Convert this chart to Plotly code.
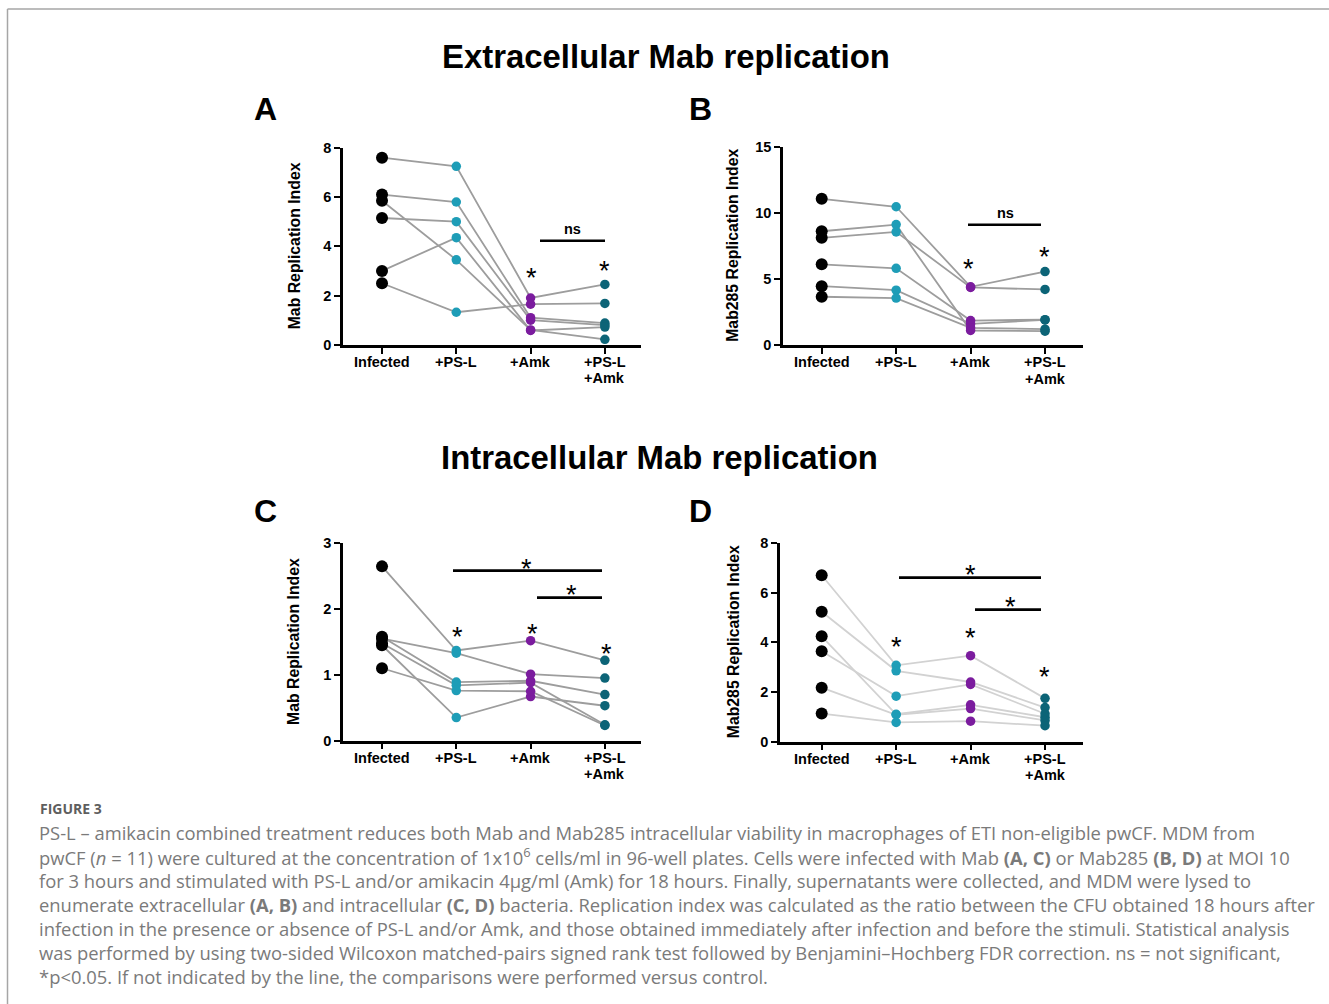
import plotly.graph_objects as go

W, H = 1329, 1004

# ---------------- data ----------------
CATEGORIES = ["Infected", "+PS-L", "+Amk", "+PS-L<br>+Amk"]

# Panel A - extracellular Mab (one value per donor, same order in each list)
A_INFECTED = [7.60, 6.10, 5.85, 5.15, 3.00, 2.50]
A_PSL      = [7.25, 5.80, 3.45, 5.00, 4.35, 1.32]
A_AMK      = [1.90, 1.10, 0.60, 1.00, 0.58, 1.65]
A_COMBO    = [2.45, 0.88, 0.22, 0.80, 0.72, 1.68]

# Panel B - extracellular Mab285
B_INFECTED = [11.05, 8.60, 8.10, 6.10, 4.45, 3.65]
B_PSL      = [10.45, 9.10, 8.55, 5.80, 4.15, 3.55]
B_AMK      = [4.40, 1.10, 4.35, 1.85, 1.60, 1.30]
B_COMBO    = [5.55, 1.05, 4.20, 1.92, 1.90, 1.20]

# Panel C - intracellular Mab
C_INFECTED = [2.65, 1.55, 1.58, 1.48, 1.45, 1.10]
C_PSL      = [1.37, 1.33, 0.89, 0.84, 0.35, 0.76]
C_AMK      = [1.52, 1.01, 0.91, 0.88, 0.67, 0.75]
C_COMBO    = [1.22, 0.95, 0.70, 0.24, 0.53, 0.23]

# Panel D - intracellular Mab285
D_INFECTED = [6.70, 5.23, 4.24, 3.64, 2.17, 1.13]
D_PSL      = [3.07, 2.85, 1.10, 1.83, 1.08, 0.77]
D_AMK      = [3.46, 2.40, 1.48, 2.30, 1.33, 0.82]
D_COMBO    = [1.74, 1.37, 0.98, 1.12, 0.85, 0.64]

COND_COLORS = ["#000000", "#1e9db7", "#7b1c9e", "#0c6477"]
COND_SIZES = [12, 9.5, 9.5, 9.5]

# observed vertical mapping of the paper area in the viewer
Y_OFF, Y_SCALE = 7.1, 0.9845


def px(x):
    return x / W


def py(y):
    return 1 - ((y - Y_OFF) / Y_SCALE) / H


panels = [
    dict(key="", letter="A", ax=(343, 641), ay=(147, 344), xr=(-0.525, 3.486),
         yr=(0, 8), dtick=2, title="Mab Replication Index", tx=294,
         data=[A_INFECTED, A_PSL, A_AMK, A_COMBO], lc="#9d9d9d"),
    dict(key="2", letter="B", ax=(783, 1083), ay=(145.7, 344.3), xr=(-0.52, 3.51),
         yr=(0, 15), dtick=5, title="Mab285 Replication Index", tx=733,
         data=[B_INFECTED, B_PSL, B_AMK, B_COMBO], lc="#9d9d9d"),
    dict(key="3", letter="C", ax=(343, 641), ay=(542.7, 740), xr=(-0.525, 3.486),
         yr=(0, 3), dtick=1, title="Mab Replication Index", tx=294,
         data=[C_INFECTED, C_PSL, C_AMK, C_COMBO], lc="#9d9d9d"),
    dict(key="4", letter="D", ax=(780, 1083), ay=(542.3, 741), xr=(-0.56, 3.51),
         yr=(0, 8), dtick=2, title="Mab285 Replication Index", tx=733,
         data=[D_INFECTED, D_PSL, D_AMK, D_COMBO], lc="#d2d2d2"),
]

fig = go.Figure()
layout = dict(
    width=W, height=H, margin=dict(l=0, r=0, t=0, b=0),
    paper_bgcolor="white", plot_bgcolor="white", showlegend=False,
    font=dict(family="Liberation Sans, Arial, sans-serif", color="black"),
)

annotations = []
shapes = []
TICKFONT = dict(size=14.5, family="Liberation Sans, Arial, sans-serif",
                weight="bold", color="black")

for p in panels:
    k = p["key"]
    xa, ya = "x" + k, "y" + k
    xs = list(range(len(CATEGORIES)))
    ndon = len(p["data"][0])
    for d in range(ndon):
        fig.add_trace(go.Scatter(
            x=xs, y=[p["data"][c][d] for c in range(4)], mode="lines",
            line=dict(color=p["lc"], width=1.8), xaxis=xa, yaxis=ya,
            hoverinfo="skip", cliponaxis=False))
    for c in range(4):
        fig.add_trace(go.Scatter(
            x=[c] * ndon, y=p["data"][c], mode="markers",
            marker=dict(color=COND_COLORS[c], size=COND_SIZES[c], line=dict(width=0)),
            xaxis=xa, yaxis=ya, cliponaxis=False))
    axis_common = dict(showgrid=False, zeroline=False, showline=True,
                       linecolor="black", linewidth=2.6, ticks="outside",
                       ticklen=6, tickwidth=2.2, tickcolor="black",
                       tickfont=TICKFONT, fixedrange=True)
    layout["xaxis" + k] = dict(axis_common, domain=[px(p["ax"][0]), px(p["ax"][1])],
                               range=list(p["xr"]), tickmode="array", tickvals=xs,
                               showticklabels=False, anchor=ya)
    layout["yaxis" + k] = dict(axis_common, domain=[py(p["ay"][1]), py(p["ay"][0])],
                               range=list(p["yr"]), dtick=p["dtick"], tick0=0, anchor=xa)
    # category labels (one annotation per text line, placed on the x axis scale)
    for c, cat in enumerate(CATEGORIES):
        for j, part in enumerate(cat.split("<br>")):
            annotations.append(dict(
                text="<b>%s</b>" % part, x=c, xref=xa, y=py(p["ay"][1] + 17 + 16.5 * j),
                yref="paper", showarrow=False, font=dict(size=14.5),
                xanchor="center", yanchor="middle"))
    annotations.append(dict(
        text="<b>%s</b>" % p["title"], x=px(p["tx"]), y=py((p["ay"][0] + p["ay"][1]) / 2),
        xref="paper", yref="paper", showarrow=False, textangle=-90,
        font=dict(size=15.8, color="black"), xanchor="center", yanchor="middle"))

# panel letters and section titles
for letter, x, y in [("A", 265, 108), ("B", 700, 108), ("C", 265, 510), ("D", 700, 510)]:
    annotations.append(dict(text="<b>%s</b>" % letter, x=px(x), y=py(y), xref="paper",
                            yref="paper", showarrow=False, font=dict(size=32),
                            xanchor="center", yanchor="middle"))
for txt, x, y, s in [("Extracellular Mab replication", 665.5, 56, 32.9),
                     ("Intracellular Mab replication", 659.5, 457, 32.9)]:
    annotations.append(dict(text="<b>%s</b>" % txt, x=px(x), y=py(y), xref="paper",
                            yref="paper", showarrow=False, font=dict(size=s),
                            xanchor="center", yanchor="middle"))

# significance bars and labels (pixel positions)
bars = [(540, 605, 240), (968, 1041, 224), (453, 602, 570), (537, 602, 597),
        (899, 1041, 577), (975, 1041, 609)]
for x0, x1, y in bars:
    shapes.append(dict(type="line", xref="paper", yref="paper", x0=px(x0), x1=px(x1),
                       y0=py(y), y1=py(y), line=dict(color="black", width=2.6)))
for x, y in [(572, 228), (1005, 212)]:
    annotations.append(dict(text="<b>ns</b>", x=px(x), y=py(y), xref="paper", yref="paper",
                            showarrow=False, font=dict(size=14.5), xanchor="center",
                            yanchor="middle"))
stars = [(531, 271), (604, 264), (968, 262), (1044, 250),
         (526, 562), (571, 588), (457, 630), (532, 627), (606, 647),
         (970, 568), (1010, 600), (897, 640), (970, 631), (1044, 670)]
for x, y in stars:
    annotations.append(dict(text="*", x=px(x), y=py(y + 6), xref="paper", yref="paper",
                            showarrow=False, font=dict(size=27), xanchor="center",
                            yanchor="middle"))

# caption
cap_font = "Open Sans, Lato, sans-serif"
annotations.append(dict(text="<b>FIGURE 3</b>", x=px(37.5), y=py(808), xref="paper",
                        yref="paper", showarrow=False, xanchor="left", yanchor="middle",
                        font=dict(size=14, color="#5e5e5e", family=cap_font)))
caption_lines = [
    "PS-L \u2013 amikacin combined treatment reduces both Mab and Mab285 intracellular viability in macrophages of ETI non-eligible pwCF. MDM from",
    "pwCF (<i>n</i> = 11) were cultured at the concentration of 1x10<sup>6</sup> cells/ml in 96-well plates. Cells were infected with Mab <b>(A, C)</b> or Mab285 <b>(B, D)</b> at MOI 10",
    "for 3 hours and stimulated with PS-L and/or amikacin 4\u03bcg/ml (Amk) for 18 hours. Finally, supernatants were collected, and MDM were lysed to",
    "enumerate extracellular <b>(A, B)</b> and intracellular <b>(C, D)</b> bacteria. Replication index was calculated as the ratio between the CFU obtained 18 hours after",
    "infection in the presence or absence of PS-L and/or Amk, and those obtained immediately after infection and before the stimuli. Statistical analysis",
    "was performed by using two-sided Wilcoxon matched-pairs signed rank test followed by Benjamini\u2013Hochberg FDR correction. ns = not significant,",
    "*p<0.05. If not indicated by the line, the comparisons were performed versus control.",
]
for i, line in enumerate(caption_lines):
    annotations.append(dict(text=line, x=px(37), y=py(832 + 24 * i), xref="paper",
                            yref="paper", showarrow=False, xanchor="left", yanchor="middle",
                            font=dict(size=18.4, color="#7a7a7a", family=cap_font)))

# figure frame (top and left border)
shapes.append(dict(type="line", xref="paper", yref="paper", x0=px(7.5), x1=1.0,
                   y0=py(8), y1=py(8), line=dict(color="#a6a6a6", width=1.5)))
shapes.append(dict(type="line", xref="paper", yref="paper", x0=px(7.5), x1=px(7.5),
                   y0=py(8), y1=py(1010), line=dict(color="#a6a6a6", width=1.5)))

layout["annotations"] = annotations
layout["shapes"] = shapes
fig.update_layout(**layout)

fig.write_html("out.html", config={"displayModeBar": False},
               post_script="document.body.style.margin='0';document.body.style.overflow='hidden';")
